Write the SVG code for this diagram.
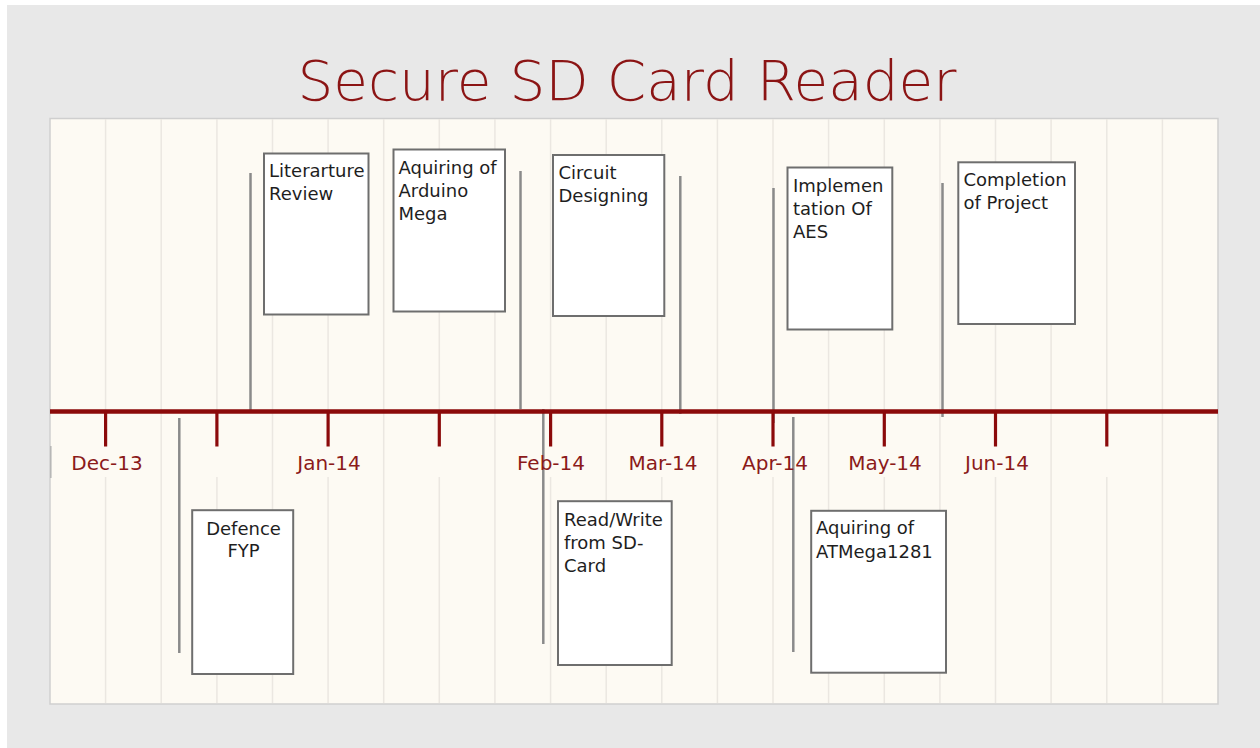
<svg xmlns="http://www.w3.org/2000/svg" width="1260" height="748" viewBox="0 0 1260 748">
<style>
.box{fill:#ffffff;stroke:#6e6e6e;stroke-width:2}
.bt{font-family:"DejaVu Sans","Liberation Sans",sans-serif;font-size:18px;fill:#1e1e1e}
.dl{font-family:"DejaVu Sans","Liberation Sans",sans-serif;font-size:20px;fill:#8b1a1a;text-anchor:middle}
.grid{stroke:#ebe7e1;stroke-width:1.5}
.tick{stroke:#8b0a0a;stroke-width:3.2}
.conn{stroke:#8a8a8a;stroke-width:2.5;fill:none}
</style>
<rect x="0" y="0" width="1260" height="748" fill="#ffffff"/>
<rect x="7" y="5" width="1253" height="743" fill="#e8e8e8"/>
<text x="627" y="100" font-family="'DejaVu Sans','Liberation Sans',sans-serif" font-size="55" font-weight="200" fill="#8b1414" text-anchor="middle" textLength="659" lengthAdjust="spacingAndGlyphs">Secure SD Card Reader</text>
<g id="plot">
<rect x="50" y="118.5" width="1168" height="585.5" fill="#fdfaf3" stroke="#cfcfcf" stroke-width="1.5"/>
<g class="grid">
<line x1="161.2" y1="119" x2="161.2" y2="703"/>
<line x1="272.5" y1="119" x2="272.5" y2="703"/>
<line x1="383.7" y1="119" x2="383.7" y2="703"/>
<line x1="494.9" y1="119" x2="494.9" y2="703"/>
<line x1="606.2" y1="119" x2="606.2" y2="703"/>
<line x1="717.4" y1="119" x2="717.4" y2="703"/>
<line x1="828.6" y1="119" x2="828.6" y2="703"/>
<line x1="939.9" y1="119" x2="939.9" y2="703"/>
<line x1="1051.1" y1="119" x2="1051.1" y2="703"/>
<line x1="1162.4" y1="119" x2="1162.4" y2="703"/>
<path d="M105.6 119V410M105.6 477V703M216.9 119V410M216.9 477V703M328.1 119V410M328.1 477V703M439.3 119V410M439.3 477V703M550.6 119V410M550.6 477V703M661.8 119V410M661.8 477V703M773 119V410M773 477V703M884.3 119V410M884.3 477V703M995.5 119V410M995.5 477V703M1106.8 119V410M1106.8 477V703"/>
</g>
<line x1="50.8" y1="446" x2="50.8" y2="478" stroke="#b5b5b5" stroke-width="1.5"/>
</g>
<g id="connectors">
<line class="conn" x1="250.5" y1="173" x2="250.5" y2="410"/>
<line class="conn" x1="520.5" y1="171" x2="520.5" y2="409"/>
<line class="conn" x1="680.3" y1="176" x2="680.3" y2="414"/>
<line class="conn" x1="773.5" y1="188" x2="773.5" y2="423"/>
<line class="conn" x1="942.5" y1="183" x2="942.5" y2="417"/>
<line class="conn" x1="179.3" y1="418" x2="179.3" y2="653"/>
<line class="conn" x1="543.3" y1="409" x2="543.3" y2="644"/>
<line class="conn" x1="793.3" y1="417" x2="793.3" y2="652"/>
</g>
<g id="axis">
<line x1="50" y1="411.5" x2="1218" y2="411.5" stroke="#8b0a0a" stroke-width="4.5"/>
<g class="tick">
<line x1="105.6" y1="411" x2="105.6" y2="446.5"/>
<line x1="216.9" y1="411" x2="216.9" y2="446.5"/>
<line x1="328.1" y1="411" x2="328.1" y2="446.5"/>
<line x1="439.3" y1="411" x2="439.3" y2="446.5"/>
<line x1="550.6" y1="411" x2="550.6" y2="446.5"/>
<line x1="661.8" y1="411" x2="661.8" y2="446.5"/>
<line x1="773" y1="411" x2="773" y2="446.5"/>
<line x1="884.3" y1="411" x2="884.3" y2="446.5"/>
<line x1="995.5" y1="411" x2="995.5" y2="446.5"/>
<line x1="1106.8" y1="411" x2="1106.8" y2="446.5"/>
</g>
<text class="dl" x="107" y="470">Dec-13</text>
<text class="dl" x="329" y="470">Jan-14</text>
<text class="dl" x="551" y="470">Feb-14</text>
<text class="dl" x="663" y="470">Mar-14</text>
<text class="dl" x="775" y="470">Apr-14</text>
<text class="dl" x="885" y="470">May-14</text>
<text class="dl" x="997" y="470">Jun-14</text>
</g>
<g id="literature-review">
<rect class="box" x="264" y="153.5" width="104.5" height="161"/>
<text class="bt" x="269" y="176.5">Literarture</text>
<text class="bt" x="269" y="200">Review</text>
</g>
<g id="arduino-mega">
<rect class="box" x="393.5" y="149.5" width="111.5" height="162"/>
<text class="bt" x="398.5" y="173.5">Aquiring of</text>
<text class="bt" x="398.5" y="196.8">Arduino</text>
<text class="bt" x="398.5" y="220">Mega</text>
</g>
<g id="circuit-designing">
<rect class="box" x="553" y="155" width="111.3" height="161"/>
<text class="bt" x="558.5" y="179">Circuit</text>
<text class="bt" x="558.5" y="202">Designing</text>
</g>
<g id="aes">
<rect class="box" x="787.5" y="167.5" width="104.8" height="162"/>
<text class="bt" x="793" y="191.5">Implemen</text>
<text class="bt" x="793" y="214.5">tation Of</text>
<text class="bt" x="793" y="238">AES</text>
</g>
<g id="completion">
<rect class="box" x="958.3" y="162.3" width="116.7" height="161.7"/>
<text class="bt" x="963.5" y="186">Completion</text>
<text class="bt" x="963.5" y="209">of Project</text>
</g>
<g id="defence-fyp">
<rect class="box" x="192.2" y="510.2" width="101" height="163.8"/>
<text class="bt" x="243.5" y="535" text-anchor="middle">Defence</text>
<text class="bt" x="243.5" y="556.7" text-anchor="middle">FYP</text>
</g>
<g id="read-write">
<rect class="box" x="558" y="501.2" width="113.7" height="163.8"/>
<text class="bt" x="564" y="525.7">Read/Write</text>
<text class="bt" x="564" y="548.5">from SD-</text>
<text class="bt" x="564" y="571.7">Card</text>
</g>
<g id="atmega">
<rect class="box" x="811.2" y="510.8" width="134.8" height="161.9"/>
<text class="bt" x="816" y="534.3">Aquiring of</text>
<text class="bt" x="816" y="558.3">ATMega1281</text>
</g>
</svg>
